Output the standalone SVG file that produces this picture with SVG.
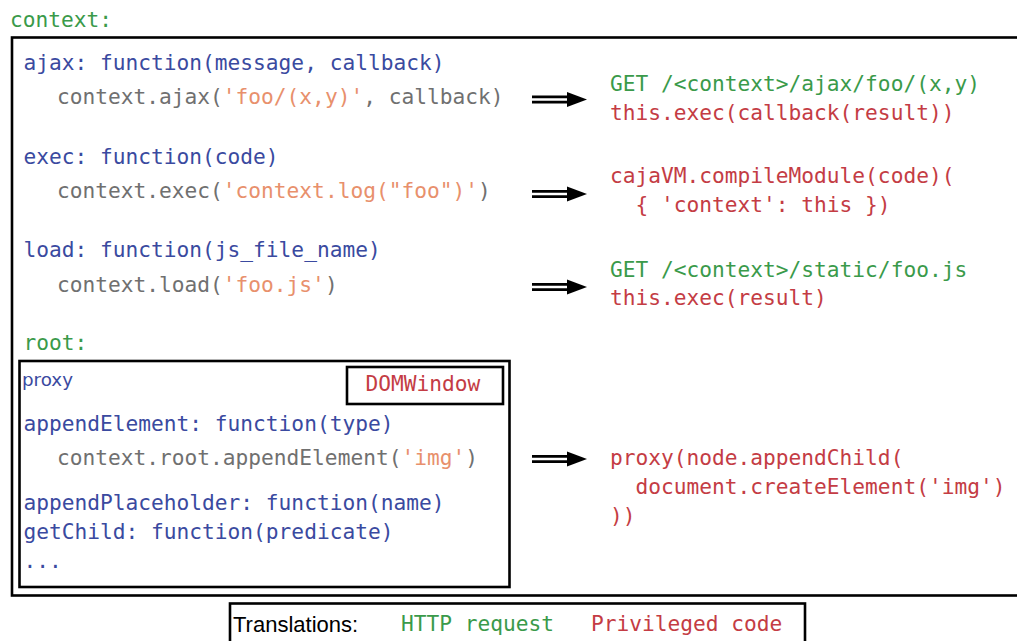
<svg xmlns="http://www.w3.org/2000/svg" width="1017" height="641" viewBox="0 0 1017 641">
  <style>
    text { font-family: "DejaVu Sans Mono", "Liberation Mono", monospace; font-size: 21.2px; }
    .g { fill: #3a9a4a; }
    .b { fill: #3a4aa0; }
    .k { fill: #707070; }
    .o { fill: #e8906c; }
    .r { fill: #c43c44; }
    .box { fill: none; stroke: #000; stroke-width: 2.6; }
    .sans { font-family: "Liberation Sans", Arial, sans-serif; font-size: 22px; fill: #000; }
  </style>
  <defs>
    <!-- double-line arrow: black shaft with a white core, and a solid head -->
    <g id="arrow">
      <line x1="532" y1="0" x2="570" y2="0" stroke="#000" stroke-width="8"/>
      <line x1="532" y1="0" x2="568" y2="0" stroke="#fff" stroke-width="2.6"/>
      <polygon points="567,-7.5 587,0 567,7.5" fill="#000"/>
    </g>
  </defs>
  <rect width="1017" height="641" fill="#fff"/>

  <text id="context-label" x="10" y="27" class="g">context:</text>

  <g id="context">
    <rect class="box" x="12" y="37.5" width="1020" height="558"/>

    <g id="ajax">
      <text x="23.5" y="70" class="b">ajax: function(message, callback)</text>
      <text x="57" y="104" class="k">context.ajax(<tspan class="o">'foo/(x,y)'</tspan>, callback)</text>
    </g>
    <g id="exec">
      <text x="23.5" y="164" class="b">exec: function(code)</text>
      <text x="57" y="198" class="k">context.exec(<tspan class="o">'context.log("foo")'</tspan>)</text>
    </g>
    <g id="load">
      <text x="23.5" y="257" class="b">load: function(js_file_name)</text>
      <text x="57" y="292" class="k">context.load(<tspan class="o">'foo.js'</tspan>)</text>
    </g>

    <text id="root-label" x="23.5" y="350" class="g">root:</text>

    <g id="root">
      <rect class="box" x="19.5" y="361" width="490" height="226"/>
      <text x="22" y="386" class="b" style="font-family:'DejaVu Sans','Noto Sans',sans-serif;font-size:18.3px">proxy</text>
      <g id="domwindow">
        <rect class="box" x="347" y="367" width="156" height="37"/>
        <text x="365.5" y="391" class="r">DOMWindow</text>
      </g>
      <text x="23.5" y="431" class="b">appendElement: function(type)</text>
      <text x="57" y="465" class="k">context.root.appendElement(<tspan class="o">'img'</tspan>)</text>
      <text x="23.5" y="510" class="b">appendPlaceholder: function(name)</text>
      <text x="23.5" y="539" class="b">getChild: function(predicate)</text>
      <text x="23.5" y="568" class="b">...</text>
    </g>
  </g>

  <g id="connectors">
    <use href="#arrow" y="99.5"/>
    <use href="#arrow" y="194"/>
    <use href="#arrow" y="287"/>
    <use href="#arrow" y="459"/>
  </g>

  <g id="ajax-translation">
    <text x="610" y="91" class="g">GET /&lt;context&gt;/ajax/foo/(x,y)</text>
    <text x="610" y="120" class="r">this.exec(callback(result))</text>
  </g>
  <g id="exec-translation">
    <text x="610" y="183" class="r">cajaVM.compileModule(code)(</text>
    <text x="610" y="212" class="r" xml:space="preserve">  { 'context': this })</text>
  </g>
  <g id="load-translation">
    <text x="610" y="277" class="g">GET /&lt;context&gt;/static/foo.js</text>
    <text x="610" y="305" class="r">this.exec(result)</text>
  </g>
  <g id="append-translation">
    <text x="610" y="465" class="r">proxy(node.appendChild(</text>
    <text x="610" y="494" class="r" xml:space="preserve">  document.createElement('img')</text>
    <text x="610" y="523" class="r">))</text>
  </g>

  <g id="legend">
    <rect class="box" x="230" y="603.5" width="575" height="50"/>
    <text x="233" y="632" class="sans">Translations:</text>
    <text x="401" y="631" class="g">HTTP request</text>
    <text x="591" y="631" class="r">Privileged code</text>
  </g>
</svg>
